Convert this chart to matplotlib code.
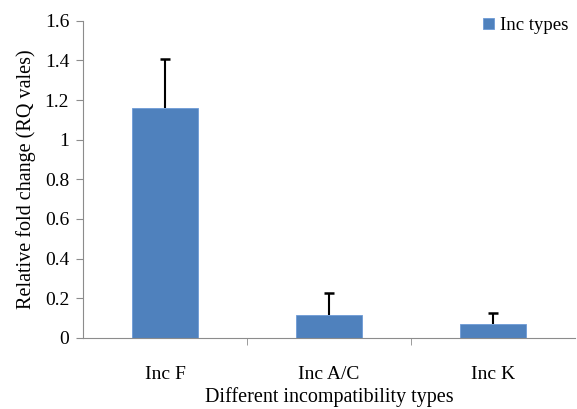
import numpy as np
import matplotlib.pyplot as plt

plt.rcParams['font.family'] = ['Liberation Serif', 'DejaVu Serif']

categories = ["Inc F", "Inc A/C", "Inc K"]
rq_values = [1.16, 0.116, 0.07]
rq_errors = [0.245, 0.11, 0.057]

fig = plt.figure(figsize=(5.77, 4.09), dpi=100)
ax = fig.add_axes([0.144, 0.174, 0.853, 0.775])

x = np.arange(len(categories))
vals = np.array(rq_values)
tops = vals + np.array(rq_errors)
ax.bar(x, vals, width=0.4, color="#4F81BD", edgecolor="#6d9ad6", linewidth=0.6,
       label="Inc types", zorder=2)
# upper error only: stem + cap
ax.vlines(x, vals, tops, color="black", linewidth=1.5, zorder=3)
ax.plot(x, tops, linestyle="none", marker="_", markersize=7, markeredgewidth=1.8,
        color="black", zorder=3)

ax.set_xlim(-0.5, 2.5)
ax.set_ylim(0, 1.6)
ax.set_yticks([0, 0.2, 0.4, 0.6, 0.8, 1, 1.2, 1.4, 1.6])
ax.set_yticklabels(["0", "0.2", "0.4", "0.6", "0.8", "1", "1.2", "1.4", "1.6"])
ax.set_xticks(x)
ax.set_xticklabels(categories)
ax.set_xticks([0.5, 1.5], minor=True)

for s in ["top", "right"]:
    ax.spines[s].set_visible(False)
for s in ["left", "bottom"]:
    ax.spines[s].set_color("#8c8c8c")
ax.tick_params(axis="y", which="major", length=5, color="#8c8c8c", labelsize=14, pad=5)
ax.tick_params(axis="x", which="major", length=0, labelsize=14, pad=20)
ax.tick_params(axis="x", which="minor", length=5, color="#8c8c8c")

ax.set_ylabel("Relative fold change (RQ vales)", fontsize=14.5, labelpad=6)
ax.set_xlabel("Different incompatibility types", fontsize=14.5, labelpad=3)

ax.legend(loc="upper right", bbox_to_anchor=(1.02, 1.065), frameon=False, fontsize=13.5,
          handlelength=0.6, handleheight=0.6, handletextpad=0.3)

fig.savefig("out.png", dpi=100)
